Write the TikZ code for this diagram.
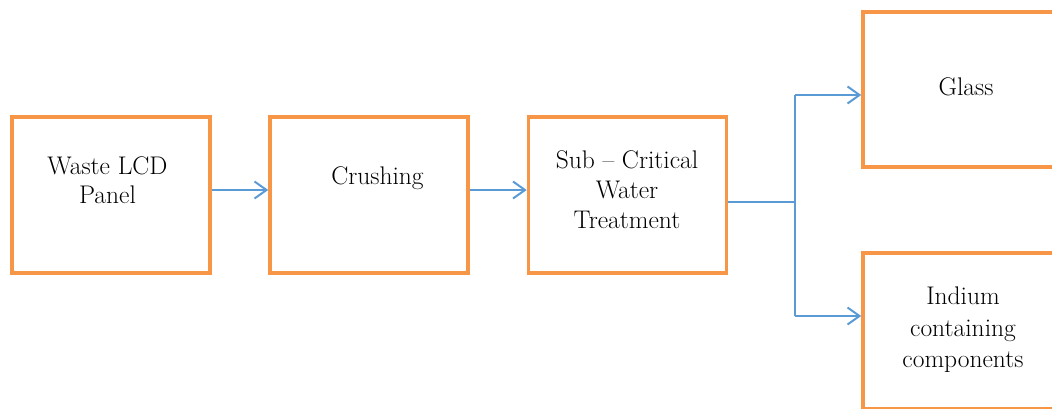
\documentclass[tikz,border=0pt]{standalone}
\usetikzlibrary{arrows.meta}
\definecolor{boxorange}{RGB}{247,150,70}
\definecolor{flowblue}{RGB}{91,155,213}
\begin{document}
\begin{tikzpicture}[x=1pt,y=-1pt,
  stagebox/.style={draw=boxorange,line width=3.5pt,rectangle,inner sep=0pt,
    minimum width=198pt,minimum height=156pt},
  stagetext/.style={align=center,inner sep=0pt,text=black,
    font=\fontsize{25.5}{30}\selectfont},
  flow/.style={draw=flowblue,line width=2pt},
  flowarrow/.style={flow,-{Straight Barb[length=12pt,width=17pt]}}]
  \clip (0,0) rectangle (1052,408);
  % process boxes
  \node[stagebox] (b1) at (111,195) {};
  \node[stagebox] (b2) at (369,195) {};
  \node[stagebox] (b3) at (627.5,195) {};
  \node[stagebox,minimum height=155pt] (b4) at (962,89.5) {};
  \node[stagebox] (b5) at (962,331) {};
  % labels
  \node[stagetext,font=\fontsize{25.5}{29}\selectfont] (t1) at (107.5,179.8) {Waste LCD\\Panel};
  \node[stagetext] (t2) at (377.5,178.6) {Crushing};
  \node[stagetext] (t3) at (627,189.2) {Sub -- Critical\\Water\\Treatment};
  \node[stagetext] (t4) at (966,86.3) {Glass};
  \node[stagetext,font=\fontsize{25.5}{31.5}\selectfont] (t5) at (963,330.1) {Indium\\containing\\components};
  % connectors
  \coordinate (split) at (795,202);
  \coordinate (up) at (795,95);
  \coordinate (dn) at (795,316);
  \draw[flowarrow] ([yshift=5pt]b1.east) -- ([yshift=5pt]b2.west);
  \draw[flowarrow] ([yshift=5pt]b2.east) -- ([yshift=5pt]b3.west);
  \draw[flow] (b3.east |- split) -- (split);
  \draw[flow] (up) -- (dn);
  \draw[flowarrow] (up) -- (b4.west |- up);
  \draw[flowarrow] (dn) -- (b5.west |- dn);
\end{tikzpicture}
\end{document}
